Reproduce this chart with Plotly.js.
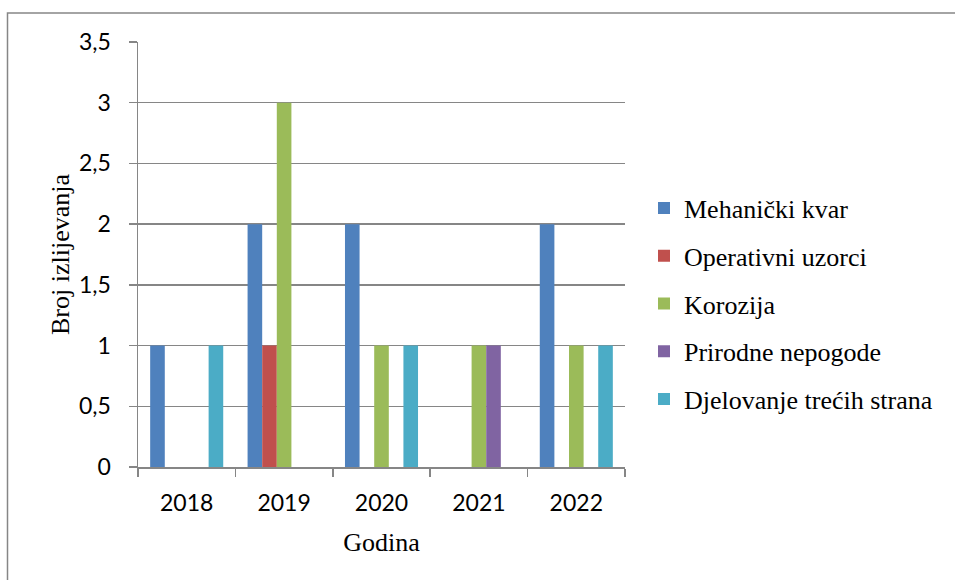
<!DOCTYPE html>
<html>
<head>
<meta charset="utf-8">
<script src="https://cdn.plot.ly/plotly-3.0.1.min.js"></script>
<style>html,body{margin:0;padding:0;background:#fff;}#chart{width:955px;height:580px;}</style>
</head>
<body>
<div id="chart"></div>
<script>
const years = ['2018', '2019', '2020', '2021', '2022'];
const seriesNames = ['Mehanički kvar', 'Operativni uzorci', 'Korozija', 'Prirodne nepogode', 'Djelovanje trećih strana'];
const mehanicki = [1, 2, 2, 0, 2];
const operativni = [0, 1, 0, 0, 0];
const korozija = [0, 3, 1, 1, 1];
const prirodne = [0, 0, 0, 1, 0];
const djelovanje = [1, 0, 1, 0, 1];
const colors = ['#4F81BD', '#C0504D', '#9BBB59', '#8064A2', '#4BACC6'];
const yTicks = [0, 0.5, 1, 1.5, 2, 2.5, 3, 3.5];

const values = [mehanicki, operativni, korozija, prirodne, djelovanje];
const traces = values.map((v, i) => ({
  type: 'bar',
  x: years,
  y: v,
  name: seriesNames[i],
  legendgroup: 'g' + i,
  marker: {color: colors[i], line: {width: 0}},
  hoverinfo: 'x+y+name'
}));

const L = 138, R = 625, T = 42, B = 467;
const W = 955, H = 580;
const pw = R - L, ph = B - T;
const px = x => (x - L) / pw;
const py = y => (B - y) / ph;

const SERIF = 'Liberation Serif';
const SANS = 'Lato';

const layout = {
  width: W, height: H,
  margin: {l: L, r: W - R, t: T, b: H - B, pad: 0},
  paper_bgcolor: '#ffffff',
  plot_bgcolor: '#ffffff',
  separators: ', ',
  barmode: 'group',
  bargap: 0.25,
  bargroupgap: 0,
  showlegend: true,
  legend: {
    x: px(644), xanchor: 'left',
    y: py(304), yanchor: 'middle',
    traceorder: 'grouped',
    tracegroupgap: 11,
    font: {family: SERIF, size: 26, color: '#000'},
    bgcolor: 'rgba(0,0,0,0)'
  },
  xaxis: {
    type: 'category',
    tickson: 'boundaries',
    ticks: 'outside', ticklen: 8, tickcolor: '#868686', tickwidth: 1.5,
    showline: true, linecolor: '#868686', linewidth: 1.5,
    showgrid: false, zeroline: false,
    tickfont: {family: SANS, size: 23, color: '#000'},
    ticklabelstandoff: 15,
    title: {text: 'Godina', font: {family: SERIF, size: 26, color: '#000'}, standoff: 17}
  },
  yaxis: {
    range: [0, 3.5],
    tickvals: yTicks,
    ticks: 'outside', ticklen: 8, tickcolor: '#868686', tickwidth: 1.5,
    showline: true, linecolor: '#868686', linewidth: 1.5,
    showgrid: true, gridcolor: '#868686', gridwidth: 1.5,
    zeroline: false,
    tickfont: {family: SANS, size: 23, color: '#000'},
    ticklabelstandoff: 13,
    title: {text: 'Broj izlijevanja', font: {family: SERIF, size: 26, color: '#000'}, standoff: 2}
  },
  shapes: [{
    type: 'path', xref: 'paper', yref: 'paper',
    path: `M ${px(7.5)},${py(600)} L ${px(7.5)},${py(13)} L ${px(960)},${py(13)}`,
    line: {color: '#868686', width: 1.5}
  }]
};

Plotly.newPlot('chart', traces, layout, {displayModeBar: false, staticPlot: true});
</script>
</body>
</html>
